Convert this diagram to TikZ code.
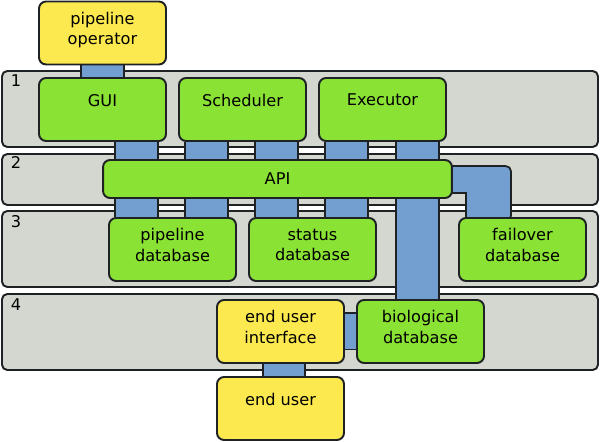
\documentclass[tikz,border=0pt]{standalone}
\usepackage{fontspec}
\setmainfont{DejaVu Sans}
\usetikzlibrary{calc}
\definecolor{butter}{HTML}{FCE94F}
\definecolor{chameleon}{HTML}{8AE234}
\definecolor{skyblue}{HTML}{729FCF}
\definecolor{aluminium}{HTML}{D3D7CF}
\definecolor{ink}{HTML}{1E2224}
\pgfdeclarelayer{bands}
\pgfdeclarelayer{links}
\pgfsetlayers{bands,links,main}
\tikzset{
  box/.style={draw=ink, line width=1.1pt, rounded corners=4pt, minimum width=2.54cm,
    minimum height=1.26cm, inner sep=0pt, align=center,
    font=\fontsize{9.2}{11.5}\selectfont},
  user/.style={box, fill=butter},
  comp/.style={box, fill=chameleon},
  toprow/.style={text depth=10.8pt},
  tworow/.style={text depth=5.2pt},
  band/.style={draw=ink, line width=1.1pt, fill=aluminium, rounded corners=3pt},
  bandno/.style={font=\fontsize{9.2}{11.5}\selectfont},
  link/.style={draw=ink, line width=1pt, double=skyblue, double distance=#1},
  link/.default=0.81cm,
}
\begin{document}
\begin{tikzpicture}[x=0.02cm, y=-0.02cm]
\useasboundingbox (0,0) rectangle (600,442);
% layers
\begin{pgfonlayer}{bands}
\draw[band] (2,71) rectangle (598,147);
\draw[band] (2,154) rectangle (598,205);
\draw[band] (2,211) rectangle (598,287);
\draw[band] (2,294) rectangle (598,370);
\end{pgfonlayer}
\node[bandno] (n1) at (16,81) {1};
\node[bandno] (n2) at (16,163) {2};
\node[bandno] (n3) at (16,222) {3};
\node[bandno] (n4) at (16,305) {4};
% components
\node[user, tworow] (oper) at (102.5,33) {pipeline\\operator};
\node[comp, toprow] (gui) at (102.5,109.5) {GUI};
\node[comp, toprow] (sched) at (242.5,109.5) {Scheduler};
\node[comp, toprow] (exec) at (382.5,109.5) {Executor};
\node[comp, minimum width=6.98cm, minimum height=0.76cm] (api) at (277.5,179) {API};
\node[comp, tworow] (pdb) at (172.5,249.5) {pipeline\\database};
\node[comp, tworow] (sdb) at (312.5,249.5) {status\\database};
\node[comp, tworow] (fdb) at (522.5,249.5) {failover\\database};
\node[user, tworow] (eui) at (280.5,331.5) {end user\\interface};
\node[comp, tworow] (bio) at (420.5,331.5) {biological\\database};
\node[user, toprow] (enduser) at (280.5,408.5) {end user};
% connectors
\begin{pgfonlayer}{links}
\path[link] (oper) -- (gui);
\path[link] ($(gui.south)+(34,0)$) -- ($(pdb.north)+(-36,0)$);
\path[link] ($(sched.south)+(-36,0)$) -- ($(pdb.north)+(34,0)$);
\path[link] ($(sched.south)+(34,0)$) -- ($(sdb.north)+(-36,0)$);
\path[link] ($(exec.south)+(-36,0)$) -- ($(sdb.north)+(34,0)$);
\path[link] ($(exec.south)+(35,0)$) -- ($(bio.north)+(-3,0)$);
\path[link=0.69cm] (eui) -- (bio);
\path[link] ($(eui.south)+(3.5,0)$) -- ($(enduser.north)+(3.5,0)$);
\draw[ink, line width=1pt, fill=skyblue]
  ($(api.north east)+(-4,7)$) [rounded corners=3pt] -| ($(fdb.north)+(-11.5,4)$)
  [sharp corners] -- ($(fdb.north)+(-56.5,4)$) |- ($(api.south east)+(-4,-6)$) -- cycle;
\end{pgfonlayer}
\end{tikzpicture}
\end{document}
